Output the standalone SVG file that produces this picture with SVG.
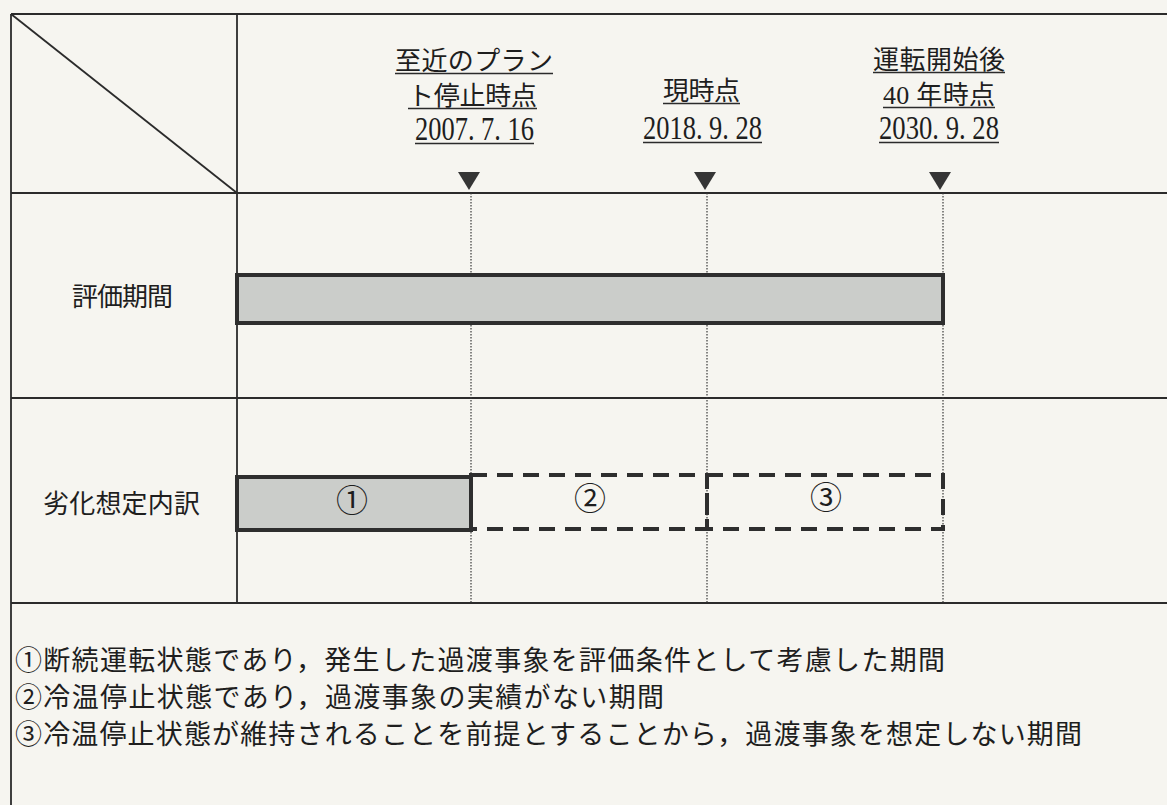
<svg xmlns="http://www.w3.org/2000/svg" width="1167" height="805" viewBox="0 0 1167 805">
<style>
.t{font-family:"Liberation Serif","Noto Sans CJK JP",serif;fill:#1e1e1e;}
.h{font-size:26px;}
.d{font-size:33px;}
.lg{font-size:27px;}
.cn{font-size:32px;}
.ln{stroke:#2b2b2b;stroke-width:1.8;fill:none;}
.ul{stroke:#2b2b2b;stroke-width:1.5;}
.dot{stroke:#3a3a3a;stroke-width:1.2;stroke-dasharray:1.5,1.5;fill:none;}
.bar{fill:#cbcdca;stroke:#2e2e2e;stroke-width:4;}
.dash{fill:none;stroke:#2e2e2e;stroke-width:4;stroke-dasharray:16,10;}
.tri{fill:#353535;}
</style>
<rect x="0" y="0" width="1167" height="805" fill="#f6f5f0"/>

<g id="grid">
<line class="ln" x1="11" y1="14" x2="1167" y2="14"/>
<line class="ln" x1="11" y1="14" x2="11" y2="805"/>
<line class="ln" x1="237" y1="14" x2="237" y2="603"/>
<line class="ln" x1="11" y1="193" x2="1167" y2="193"/>
<line class="ln" x1="11" y1="398" x2="1167" y2="398"/>
<line class="ln" x1="11" y1="603" x2="1167" y2="603"/>
<line class="ln" x1="11" y1="14" x2="237" y2="193"/>
</g>

<g id="connectors">
<line class="dot" x1="471" y1="193" x2="471" y2="603"/>
<line class="dot" x1="707" y1="193" x2="707" y2="603"/>
<line class="dot" x1="943" y1="193" x2="943" y2="603"/>
</g>

<g id="marker-2007">
<text class="t h" x="474" y="70" text-anchor="middle" textLength="158">至近のプラン</text>
<line class="ul" x1="395" y1="73.5" x2="553" y2="73.5"/>
<text class="t h" x="472.5" y="105" text-anchor="middle" textLength="129">ト停止時点</text>
<line class="ul" x1="408" y1="108.5" x2="537" y2="108.5"/>
<text class="t d" x="474.5" y="140" text-anchor="middle" textLength="119" lengthAdjust="spacingAndGlyphs">2007. 7. 16</text>
<line class="ul" x1="415" y1="143.5" x2="534" y2="143.5"/>
<polygon class="tri" points="458,172 480,172 469,190"/>
</g>

<g id="marker-2018">
<text class="t h" x="701.5" y="100" text-anchor="middle" textLength="77">現時点</text>
<line class="ul" x1="663" y1="103.5" x2="740" y2="103.5"/>
<text class="t d" x="702.5" y="139" text-anchor="middle" textLength="119" lengthAdjust="spacingAndGlyphs">2018. 9. 28</text>
<line class="ul" x1="643" y1="142.5" x2="762" y2="142.5"/>
<polygon class="tri" points="694,172 716,172 705,190"/>
</g>

<g id="marker-2030">
<text class="t h" x="939" y="69" text-anchor="middle" textLength="132">運転開始後</text>
<line class="ul" x1="873" y1="72.5" x2="1005" y2="72.5"/>
<text class="t h" x="939" y="104" text-anchor="middle" textLength="112">40 年時点</text>
<line class="ul" x1="883" y1="107.5" x2="995" y2="107.5"/>
<text class="t d" x="939" y="139" text-anchor="middle" textLength="120" lengthAdjust="spacingAndGlyphs">2030. 9. 28</text>
<line class="ul" x1="879" y1="142.5" x2="999" y2="142.5"/>
<polygon class="tri" points="929,172 951,172 940,190"/>
</g>

<g id="row-evaluation">
<text class="t h" x="122.5" y="306" text-anchor="middle" textLength="101">評価期間</text>
<rect class="bar" x="237" y="275" width="706" height="48"/>
</g>

<g id="row-breakdown">
<text class="t h" x="121.5" y="513" text-anchor="middle" textLength="157">劣化想定内訳</text>
<g id="period-1">
<rect class="bar" x="237" y="477" width="234" height="53"/>
<text class="t cn" x="352" y="512" text-anchor="middle">①</text>
</g>
<g id="period-2">
<rect class="dash" x="471" y="475" width="236" height="54"/>
<text class="t cn" x="590" y="510" text-anchor="middle">②</text>
</g>
<g id="period-3">
<rect class="dash" x="707" y="475" width="236" height="54"/>
<text class="t cn" x="826" y="509" text-anchor="middle">③</text>
</g>
</g>

<g id="legend">
<text class="t lg" x="15" y="670" textLength="930">①断続運転状態であり，発生した過渡事象を評価条件として考慮した期間</text>
<text class="t lg" x="15" y="707" textLength="649">②冷温停止状態であり，過渡事象の実績がない期間</text>
<text class="t lg" x="15" y="744" textLength="1067">③冷温停止状態が維持されることを前提とすることから，過渡事象を想定しない期間</text>
</g>
</svg>
